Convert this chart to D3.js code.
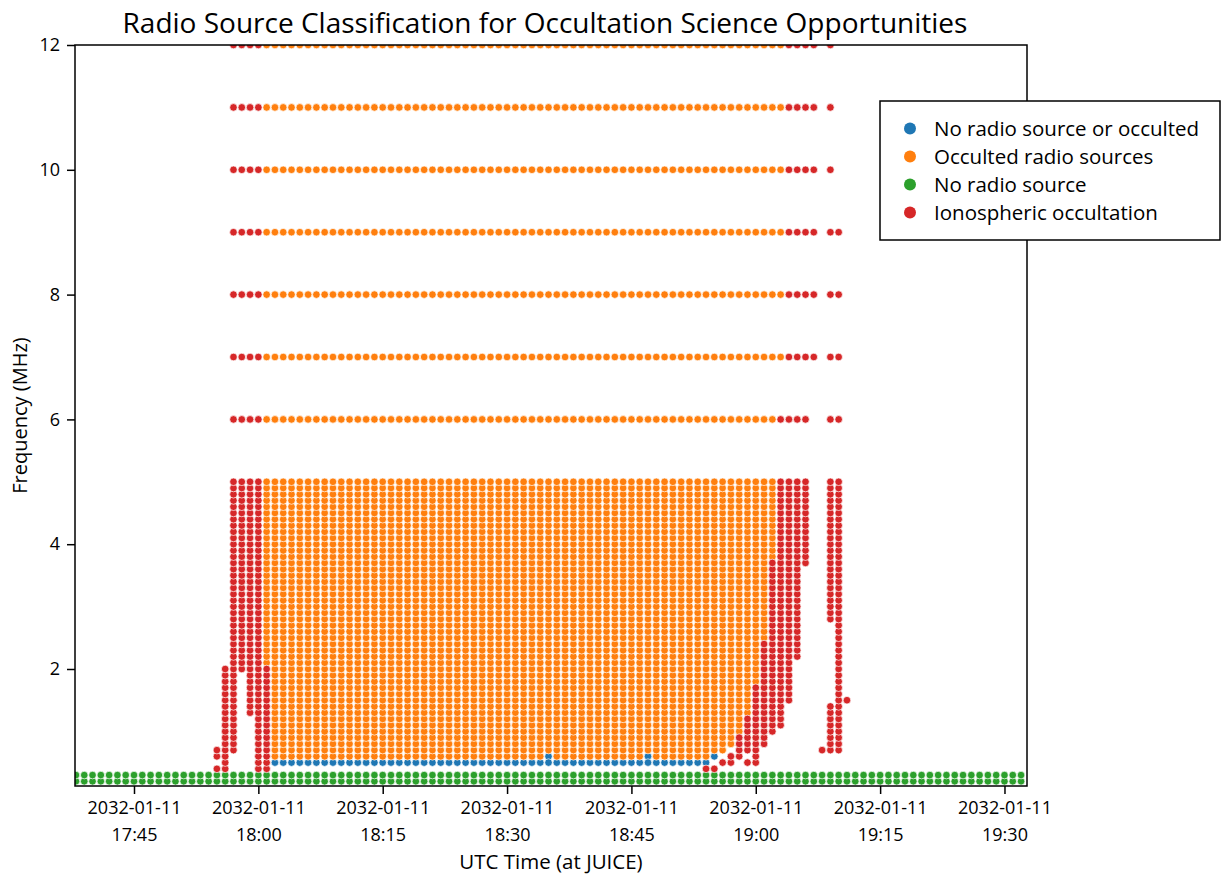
<!DOCTYPE html>
<html>
<head>
<meta charset="utf-8">
<script src="https://cdn.jsdelivr.net/npm/d3@7"></script>
<style>
  body { margin: 0; background: #fff; }
  text { font-family: "Open Sans", sans-serif; fill: #000; }
</style>
</head>
<body>
<script>

// frequency channels (MHz)
var freqs = [0.2, 0.3, 0.4, 0.5, 0.6, 0.7, 0.8, 0.9, 1.0,
  1.1, 1.2, 1.3, 1.4, 1.5, 1.6, 1.7, 1.8, 1.9, 2.0,
  2.1, 2.2, 2.3, 2.4, 2.5, 2.6, 2.7, 2.8, 2.9, 3.0,
  3.1, 3.2, 3.3, 3.4, 3.5, 3.6, 3.7, 3.8, 3.9, 4.0,
  4.1, 4.2, 4.3, 4.4, 4.5, 4.6, 4.7, 4.8, 4.9, 5.0,
  6, 7, 8, 9, 10, 11, 12]

// runs of cells: [first minute, last minute, lowest MHz, highest MHz]
var greenRuns = [["17:38", "19:32", 0.2, 0.3]]

var orangeRuns = [
  ["18:01", "19:03", 7, 12], ["18:01", "19:02", 6, 6],
  ["18:01", "18:01", 2.1, 5.0], ["18:02", "18:54", 0.6, 5.0],
  ["18:55", "18:56", 0.7, 5.0], ["18:57", "18:57", 0.8, 5.0],
  ["18:58", "18:58", 1.0, 5.0], ["18:59", "18:59", 1.3, 5.0],
  ["19:00", "19:00", 1.8, 5.0], ["19:01", "19:01", 2.5, 5.0],
  ["19:02", "19:02", 3.8, 5.0]
]

var blueRuns = [
  ["18:02", "18:54", 0.5, 0.5], ["18:35", "18:35", 0.6, 0.6],
  ["18:47", "18:47", 0.6, 0.6], ["18:55", "18:55", 0.6, 0.6]
]

var redRuns = [
  ["17:57", "18:00", 6, 12], ["19:04", "19:07", 7, 12], ["19:03", "19:06", 6, 6],
  ["19:09", "19:09", 6, 12], ["19:10", "19:10", 6, 9],
  ["17:55", "17:55", 0.4, 0.4], ["17:55", "17:55", 0.6, 0.7],
  ["17:56", "17:56", 0.4, 2.0], ["17:57", "17:57", 0.7, 5.0],
  ["17:58", "17:58", 2.0, 5.0], ["17:59", "17:59", 1.3, 5.0],
  ["18:00", "18:00", 0.4, 5.0], ["18:01", "18:01", 0.4, 2.0],
  ["18:54", "18:55", 0.4, 0.4], ["18:56", "18:56", 0.5, 0.5],
  ["18:57", "18:57", 0.5, 0.6], ["18:58", "18:58", 0.6, 0.9],
  ["18:59", "18:59", 0.5, 0.5], ["18:59", "18:59", 0.7, 1.2],
  ["19:00", "19:00", 0.5, 1.7], ["19:01", "19:01", 0.8, 2.4],
  ["19:02", "19:02", 1.0, 3.7], ["19:03", "19:03", 1.1, 5.0],
  ["19:04", "19:04", 1.5, 5.0], ["19:05", "19:05", 2.2, 5.0],
  ["19:06", "19:06", 3.7, 5.0], ["19:08", "19:08", 0.7, 0.7],
  ["19:09", "19:09", 0.7, 1.4], ["19:09", "19:09", 2.8, 5.0],
  ["19:10", "19:10", 0.7, 5.0], ["19:11", "19:11", 1.5, 1.5]
]

var classes = ["No radio source or occulted", "Occulted radio sources", "No radio source", "Ionospheric occultation"]
var colors = ["#1f77b4", "#ff7f0e", "#2ca02c", "#d62728"]
var xTicks = ["17:45", "18:00", "18:15", "18:30", "18:45", "19:00", "19:15", "19:30"]
var yTicks = [2, 4, 6, 8, 10, 12]
var dateLabel = "2032-01-11"

function t(hm, s) {
  var p = hm.split(":")
  return new Date(Date.UTC(2032, 0, 11, +p[0], +p[1], s || 0))
}

// build cell classification, later runs overwrite earlier ones
var cells = new Map()
function addRuns(runs, cls) {
  runs.forEach(function(r) {
    var mins = d3.utcMinute.range(t(r[0]), d3.utcMinute.offset(t(r[1]), 1))
    mins.forEach(function(m) {
      freqs.forEach(function(f) {
        if (f >= r[2] - 1e-9 && f <= r[3] + 1e-9)
          cells.set(+m + "|" + f, {time: m, freq: f, cls: cls})
      })
    })
  })
}
addRuns(greenRuns, 2)
addRuns(orangeRuns, 1)
addRuns(blueRuns, 0)
addRuns(redRuns, 3)
var points = Array.from(cells.values())

var W = 1222, H = 876
var pl = 75, pr = 1027, pt = 45, pb = 786

var svg = d3.select("body").append("svg")
    .attr("width", W)
    .attr("height", H)

var x = d3.scaleUtc()
    .domain([t("17:37", 53), t("19:32", 43)])
    .range([pl, pr])

var y = d3.scaleLinear()
    .domain([0.125, 12])
    .range([pb, pt])

svg.append("clipPath").attr("id", "plotclip")
  .append("rect")
    .attr("x", pl).attr("y", pt)
    .attr("width", pr - pl).attr("height", pb - pt)

var dots = svg.append("g").attr("clip-path", "url(#plotclip)")
;[0, 1, 2, 3].forEach(function(c) {
  dots.append("g")
    .selectAll("circle")
    .data(points.filter(function(d) { return d.cls == c }))
    .enter().append("circle")
      .attr("cx", function(d) { return x(d.time) })
      .attr("cy", function(d) { return y(d.freq) })
      .attr("r", 3.8)
      .attr("fill", colors[c])
      .attr("stroke", "#fff")
      .attr("stroke-width", 0.7)
})

// frame
svg.append("rect")
    .attr("x", pl).attr("y", pt)
    .attr("width", pr - pl).attr("height", pb - pt)
    .attr("fill", "none")
    .attr("stroke", "#000")
    .attr("stroke-width", 1.5)

// x axis
var xa = svg.append("g")
    .attr("transform", "translate(0," + pb + ")")
    .call(d3.axisBottom(x)
      .tickValues(xTicks.map(function(s) { return t(s) }))
      .tickSize(8)
      .tickPadding(8)
      .tickFormat(function() { return "" }))
xa.select(".domain").remove()
xa.selectAll(".tick line").attr("stroke", "#000").attr("stroke-width", 1.5)
xa.selectAll(".tick text")
    .attr("font-size", 18)
    .attr("font-family", "Open Sans")
    .each(function(d, i) {
      var el = d3.select(this)
      el.append("tspan").attr("x", 0).attr("y", 28).text(dateLabel)
      el.append("tspan").attr("x", 0).attr("y", 55).text(xTicks[i])
    })
    .attr("dy", null)

// y axis
var ya = svg.append("g")
    .attr("transform", "translate(" + pl + ",0)")
    .call(d3.axisLeft(y)
      .tickValues(yTicks)
      .tickSize(8)
      .tickPadding(7))
ya.select(".domain").remove()
ya.selectAll(".tick line").attr("stroke", "#000").attr("stroke-width", 1.5)
ya.selectAll(".tick text")
    .attr("font-size", 18)
    .attr("font-family", "Open Sans")
    .attr("fill", "#000")

// labels
svg.append("text")
    .attr("x", (pl + pr) / 2)
    .attr("y", 869)
    .attr("text-anchor", "middle")
    .attr("font-size", 20.5)
    .text("UTC Time (at JUICE)")

svg.append("text")
    .attr("transform", "translate(27," + (pt + pb) / 2 + ") rotate(-90)")
    .attr("text-anchor", "middle")
    .attr("font-size", 20)
    .text("Frequency (MHz)")

svg.append("text")
    .attr("x", (pl + pr) / 2 - 6)
    .attr("y", 33)
    .attr("text-anchor", "middle")
    .attr("font-size", 28)
    .text("Radio Source Classification for Occultation Science Opportunities")

// legend
var lg = svg.append("g")
lg.append("rect")
    .attr("x", 880).attr("y", 101)
    .attr("width", 340).attr("height", 139)
    .attr("fill", "#fff")
    .attr("stroke", "#000")
    .attr("stroke-width", 1.5)
classes.forEach(function(c, i) {
  var cy = 128.5 + i * 28
  lg.append("circle")
      .attr("cx", 910).attr("cy", cy).attr("r", 6)
      .attr("fill", colors[i])
  lg.append("text")
      .attr("x", 934).attr("y", cy + 7)
      .attr("font-size", 20.5)
      .text(c)
})

</script>
</body>
</html>
